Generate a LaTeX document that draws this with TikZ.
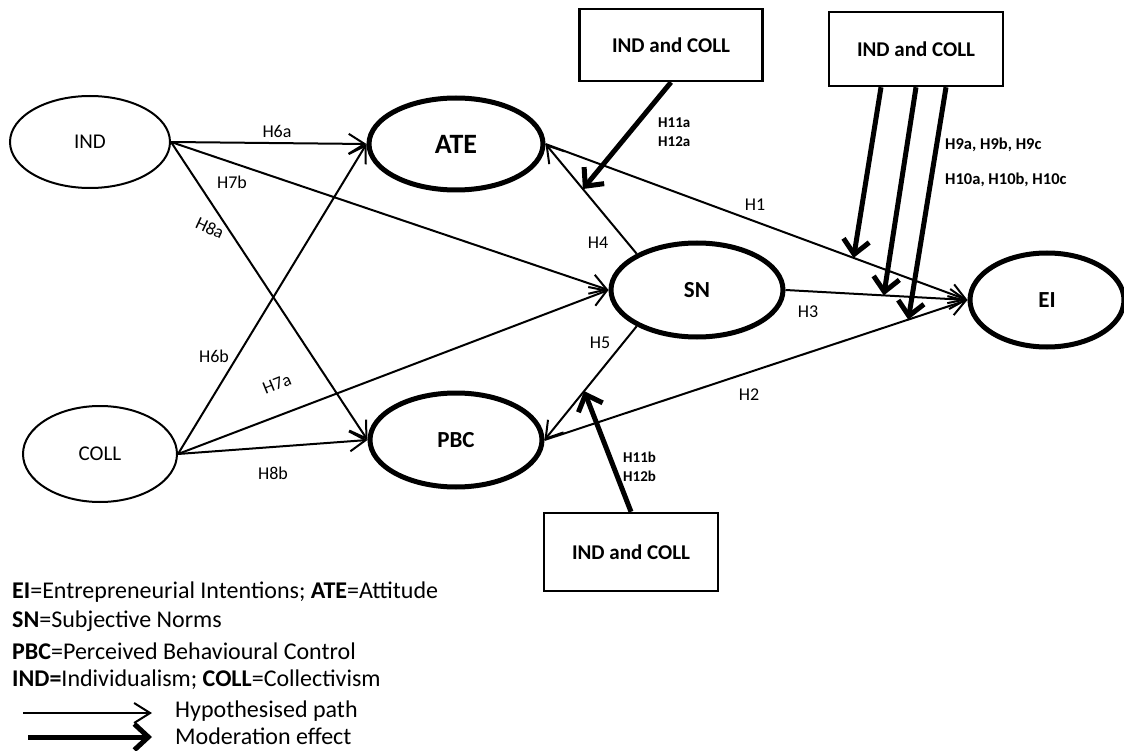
\documentclass[tikz,border=0pt]{standalone}
\usepackage{fontspec}
\setmainfont{Carlito}
\usetikzlibrary{arrows.meta,shapes.geometric,calc}
\begin{document}
\begin{tikzpicture}[x=1pt,y=-1pt,
  construct/.style={ellipse,draw,line width=2pt,inner sep=0pt,font=\fontsize{21}{25}\selectfont},
  core/.style={ellipse,draw,line width=5pt,inner sep=0pt,font=\bfseries\fontsize{23}{27}\selectfont},
  modbox/.style={rectangle,draw,line width=2.5pt,minimum width=174pt,minimum height=76pt,font=\bfseries\fontsize{21}{25}\selectfont},
  hyp/.style={line width=2pt,-{Straight Barb[length=16pt,width=20pt]}},
  mod/.style={line width=5pt,-{Straight Barb[length=14pt,width=26pt]}},
  hlab/.style={font=\fontsize{18}{22}\selectfont,inner sep=1pt},
  mlab/.style={font=\bfseries\fontsize{15}{18}\selectfont,anchor=west,inner sep=0pt},
  legend/.style={anchor=west,inner sep=0pt,font=\fontsize{24}{29}\selectfont}]

\useasboundingbox (0,0) rectangle (1124,751);

% constructs
\node[construct,minimum width=160pt,minimum height=92pt] (ind)  at (90,142)  {IND};
\node[construct,minimum width=154pt,minimum height=96pt] (coll) at (100,454) {COLL};
\node[core,minimum width=174pt,minimum height=92pt,font=\bfseries\fontsize{28}{32}\selectfont] (ate) at (456,144) {ATE};
\node[core,minimum width=172pt,minimum height=94pt] (sn)  at (697,290) {SN};
\node[core,minimum width=172pt,minimum height=94pt] (pbc) at (456,440) {PBC};
\node[core,minimum width=154pt,minimum height=94pt] (ei)  at (1047,300) {EI};

% moderator boxes
\node[modbox,minimum width=183pt,minimum height=72pt] (box1) at (671,45) {IND and COLL};
\node[modbox,minimum height=74pt] (box2) at (916,49) {IND and COLL};
\node[modbox,minimum height=78pt] (box3) at (631,552) {IND and COLL};

% cultural paths
\draw[hyp] (ind.east) -- (ate.west);
\draw[hyp] (ind.east) -- (sn.west);
\draw[hyp] (ind.east) -- (pbc.west);
\draw[hyp] (coll.east) -- (ate.west);
\draw[hyp] (coll.east) -- (sn.west);
\draw[hyp] (coll.east) -- (pbc.west);

% TPB paths
\draw[hyp] (sn.149) -- (ate.east) coordinate[pos=0.59] (m4);
\draw[hyp] (sn.211) -- (pbc.east) coordinate[pos=0.57] (m5);
\draw[hyp] (ate.east) -- (ei.west) coordinate[pos=0.73] (m1);
\draw[hyp] (sn.east) -- (ei.west) coordinate[pos=0.54] (m3);
\draw[hyp] (pbc.east) -- (ei.west) coordinate[pos=0.86] (m2);

% moderation effects
\draw[mod] (box1.south) -- (m4);
\draw[mod] (box3.north) -- (m5);
\draw[mod] ([xshift=-35pt]box2.south) -- (m1);
\draw[mod] (box2.south) -- (m3);
\draw[mod] ([xshift=30pt]box2.south) -- (m2);

% path labels
\node[hlab] at (277,131) {H6a};
\node[hlab] at (232,182) {H7b};
\node[hlab,rotate=-25] at (210,228) {H8a};
\node[hlab] at (214,356) {H6b};
\node[hlab,rotate=22] at (277,384) {H7a};
\node[hlab] at (273,473) {H8b};
\node[hlab] at (755,205) {H1};
\node[hlab] at (598,243) {H4};
\node[hlab] at (808,312) {H3};
\node[hlab] at (600,343) {H5};
\node[hlab] at (749,395) {H2};

\node[mlab] at (658,123) {H11a};
\node[mlab] at (658,142) {H12a};
\node[mlab] at (623,457) {H11b};
\node[mlab] at (623,476) {H12b};
\node[mlab,font=\bfseries\fontsize{16.5}{20}\selectfont] at (945,145) {H9a, H9b, H9c};
\node[mlab,font=\bfseries\fontsize{16.5}{20}\selectfont] at (945,180) {H10a, H10b, H10c};

% legend
\node[legend] at (12,592) {\textbf{EI}=Entrepreneurial Intentions; \textbf{ATE}=Attitude};
\node[legend] at (12,621) {\textbf{SN}=Subjective Norms};
\node[legend] at (12,651) {\textbf{PBC}=Perceived Behavioural Control};
\node[legend] at (12,680) {\textbf{IND=}Individualism; \textbf{COLL}=Collectivism};
\coordinate (lh1) at (23,713);
\coordinate (lh2) at (152,713);
\coordinate (lm1) at (28,737);
\coordinate (lm2) at (152,737);
\draw[hyp] (lh1) -- (lh2);
\draw[mod] (lm1) -- (lm2);
\node[legend] at (175,711) {Hypothesised path};
\node[legend] at (175,736) {Moderation effect};
\end{tikzpicture}
\end{document}
